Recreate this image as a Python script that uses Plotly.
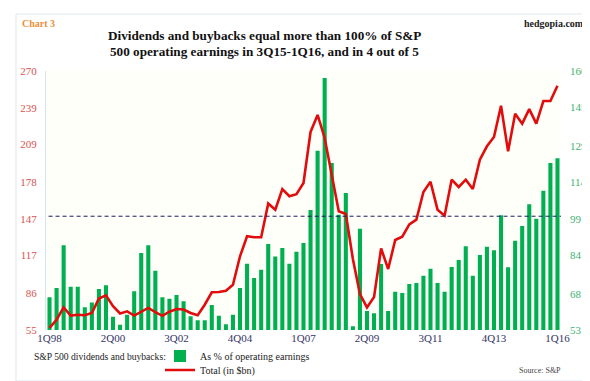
import plotly.graph_objects as go

# ---- data ----
years = list(range(1998, 2017))
quarters = [f"{q}Q{str(y)[2:]}" for y in years for q in (1, 2, 3, 4)][:73]  # 1Q98 .. 1Q16

pct_of_earnings = [
    66.5, 70.4, 88.0, 70.9, 70.9, 62.4, 64.4, 69.9, 71.5, 58.5,
    55.2, 59.3, 69.0, 84.8, 88.0, 77.5, 66.5, 65.9, 67.5, 64.9,
    58.7, 57.0, 57.0, 63.3, 58.9, 55.4, 59.3, 70.4, 80.4, 74.5,
    77.9, 88.5, 83.4, 86.9, 80.4, 85.3, 88.9, 102.6, 127.1, 157.1,
    122.0, 100.6, 109.6, 54.5, 94.8, 60.8, 59.9, 80.3, 60.8, 68.8,
    68.3, 72.0, 72.4, 75.4, 78.3, 72.4, 68.8, 79.0, 81.9, 87.6,
    75.4, 84.0, 87.4, 85.9, 100.4, 78.9, 89.9, 96.0, 105.0, 99.0,
    110.5, 122.0, 124.0,
]

total_bn = [
    56.7, 63.5, 73.7, 66.9, 67.7, 67.2, 69.1, 81.1, 83.8, 74.7,
    68.7, 70.5, 67.0, 70.5, 73.3, 69.9, 66.8, 70.2, 72.4, 72.0,
    69.1, 67.2, 76.0, 86.3, 86.5, 87.6, 92.6, 116.2, 132.8, 132.0,
    132.0, 160.0, 154.9, 172.0, 166.0, 167.7, 177.0, 219.4, 233.5, 214.4,
    184.5, 153.5, 151.3, 113.9, 84.9, 73.7, 82.4, 122.7, 105.6, 129.7,
    132.4, 142.7, 146.6, 169.6, 178.1, 154.9, 149.9, 179.8, 173.7, 179.8,
    172.0, 196.4, 207.5, 215.2, 241.2, 203.3, 234.6, 226.3, 238.4, 226.3,
    245.1, 245.1, 257.8,
]

x_tick_labels = ["1Q98", "2Q00", "3Q02", "4Q04", "1Q07", "2Q09", "3Q11", "4Q13", "1Q16"]
left_ticks = [55, 86, 117, 147, 178, 209, 239, 270]
right_ticks = [53, 68, 84, 99, 114, 129, 145, 160]
threshold_pct = 100

# ---- layout helpers ----
W, H = 590, 381
L, R, T, B = 38, 37, 63, 59
pw, ph = W - L - R, H - T - B


def px(x):
    return (x - L) / pw


def py(y):
    return (H - B - y) / ph


SERIF = "Liberation Serif"
GREEN = "#00b050"
RED = "#e10d0d"

fig = go.Figure()

fig.add_trace(go.Bar(
    x=quarters, y=pct_of_earnings, name="As % of operating earnings",
    marker=dict(color=GREEN, line=dict(width=0)), yaxis="y", legend="legend",
))
fig.add_trace(go.Scatter(
    x=quarters, y=total_bn, name="Total (in $bn)", mode="lines",
    line=dict(color=RED, width=2.6), yaxis="y2", legend="legend2",
))

leg_font = dict(family=SERIF, size=10, color="#222222")

fig.update_layout(
    width=W, height=H,
    margin=dict(l=L, r=R, t=T, b=B, autoexpand=False),
    paper_bgcolor="white",
    plot_bgcolor="#fffffa",
    bargap=0.42,
    font=dict(family=SERIF, size=11, color="#333333"),
    xaxis=dict(
        type="category", tickmode="array", tickvals=x_tick_labels, ticktext=x_tick_labels,
        showgrid=False, showline=False, zeroline=False, ticks="",
        tickfont=dict(family=SERIF, size=11, color="#333366"),
        range=[-0.5, len(quarters) - 0.5],
    ),
    yaxis=dict(
        side="right", range=[53, 160], tickvals=right_ticks,
        showgrid=False, zeroline=False, showline=False, ticks="",
        tickfont=dict(family=SERIF, size=11, color="#3cb371"),
        ticklabelstandoff=8,
    ),
    yaxis2=dict(
        overlaying="y", side="left", range=[55, 270], tickvals=left_ticks,
        showgrid=False, zeroline=False, showline=True, linecolor="#d6e4f0", linewidth=1, ticks="",
        tickfont=dict(family=SERIF, size=11, color="#d9534f"),
        ticklabelstandoff=6,
    ),
    legend=dict(
        orientation="v", x=px(152), y=py(348), xanchor="left", yanchor="middle",
        font=leg_font, bgcolor="rgba(0,0,0,0)", itemwidth=30,
    ),
    legend2=dict(
        orientation="v", x=px(152), y=py(362), xanchor="left", yanchor="middle",
        font=leg_font, bgcolor="rgba(0,0,0,0)", itemwidth=30,
    ),
    showlegend=True,
)

# 100% reference line on the percentage axis
fig.add_shape(type="line", xref="paper", yref="y", x0=0.005, x1=1.0,
              y0=threshold_pct, y1=threshold_pct,
              line=dict(color="#1a1a66", width=1, dash="4px,3px"))

# outer frame
fig.add_shape(type="rect", xref="paper", yref="paper",
              x0=px(8), x1=px(582), y0=py(373), y1=py(6),
              line=dict(color="#dfe6ee", width=1), layer="below")

ann = [
    dict(text="<b>Chart 3</b>", x=px(12), y=py(16), xanchor="left", yanchor="middle",
         font=dict(family=SERIF, size=10, color="#e8903a")),
    dict(text="<b>hedgopia.com</b>", x=px(578), y=py(16), xanchor="right", yanchor="middle",
         font=dict(family=SERIF, size=10, color="#222222")),
    dict(text="<b>Dividends and buybacks equal more than 100% of S&P</b>", x=px(256), y=py(27),
         xanchor="center", yanchor="middle", font=dict(family=SERIF, size=13.2, color="#111111")),
    dict(text="<b>500 operating earnings in 3Q15-1Q16, and in 4 out of 5</b>", x=px(256), y=py(44),
         xanchor="center", yanchor="middle", font=dict(family=SERIF, size=13.2, color="#111111")),
    dict(text="S&P 500 dividends and buybacks:", x=px(24), y=py(348), xanchor="left", yanchor="middle",
         font=dict(family=SERIF, size=9.6, color="#222222")),
    dict(text="Source: S&P", x=px(555), y=py(362), xanchor="right", yanchor="middle",
         font=dict(family=SERIF, size=8, color="#444444")),
]
for a in ann:
    a.update(xref="paper", yref="paper", showarrow=False)
fig.update_layout(annotations=ann)

fig.write_html("out.html")
